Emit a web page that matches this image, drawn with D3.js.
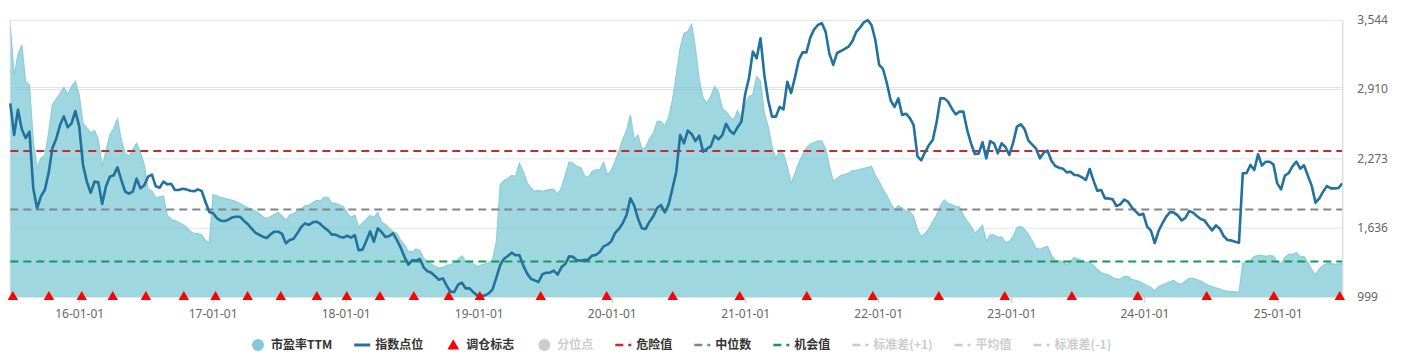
<!DOCTYPE html>
<html>
<head>
<meta charset="utf-8">
<script src="https://cdn.jsdelivr.net/npm/d3@7/dist/d3.min.js"></script>
<style>
  body { margin: 0; background: #fff; }
  svg text { font-family: "Noto Sans CJK SC", "Noto Sans", sans-serif; }
</style>
</head>
<body>
<svg id="chart" width="1424" height="362"></svg>
<script>
// one value every 10.5 days starting 2015-06-26
const startDate = new Date(2015, 5, 26);
const stepDays = 10.5;

const peTTM = [
  68.1, 58.3, 62.4, 64.4, 57.1, 56.4, 45.1, 39.7, 41.7, 42.3,
  46.7, 52.5, 53.6, 54.7, 55.9, 54.5, 56.1, 57.1, 54.4, 48.7,
  47.8, 46.8, 47.3, 45.4, 40.1, 43.1, 46.4, 47.7, 49.6, 45.4,
  42.7, 42.2, 43.5, 44.7, 42.9, 40.4, 35.6, 35.2, 33.8, 34.0,
  34.2, 30.3, 29.6, 29.3, 28.9, 28.5, 28.0, 27.1, 26.7, 26.7,
  26.4, 25.3, 24.8, 34.5, 34.2, 33.9, 33.7, 33.5, 33.3, 33.1,
  32.7, 32.3, 31.9, 31.6, 31.2, 30.7, 30.1, 29.7, 30.1, 30.5,
  30.9, 30.2, 29.3, 30.4, 30.7, 31.2, 31.7, 32.2, 32.3, 32.9,
  33.3, 33.2, 33.9, 33.9, 32.7, 32.7, 32.4, 32.1, 30.8, 29.9,
  30.4, 27.9, 28.8, 29.5, 30.3, 29.9, 30.9, 29.0, 28.5, 27.7,
  27.1, 26.7, 25.3, 24.4, 23.1, 23.0, 23.6, 23.3, 21.7, 21.1,
  20.6, 20.1, 19.8, 19.9, 20.3, 20.4, 20.8, 21.5, 22.2, 21.1,
  21.2, 20.6, 20.1, 20.4, 20.6, 20.8, 21.4, 25.1, 36.5, 37.3,
  37.7, 38.3, 38.1, 40.7, 39.1, 36.9, 35.8, 35.1, 35.3, 35.1,
  35.3, 35.5, 35.5, 34.5, 35.9, 38.4, 41.0, 40.8, 40.1, 39.9,
  38.3, 37.9, 39.1, 39.4, 39.4, 40.9, 38.4, 39.3, 41.1, 43.2,
  45.5, 47.3, 50.4, 45.5, 46.4, 43.5, 43.9, 45.7, 46.7, 49.1,
  49.1, 48.2, 49.9, 53.4, 58.4, 63.7, 66.7, 67.1, 68.5, 63.7,
  57.4, 53.7, 52.8, 54.1, 56.1, 55.1, 51.6, 51.1, 50.0, 49.4,
  51.3, 49.3, 52.4, 54.1, 54.5, 58.1, 57.1, 50.7, 48.1, 44.1,
  41.7, 43.3, 42.6, 40.1, 36.7, 38.7, 40.8, 42.4, 43.8, 44.6,
  44.9, 45.2, 45.2, 43.6, 40.1, 37.1, 37.7, 38.3, 38.5, 38.8,
  39.2, 39.3, 39.5, 39.7, 39.9, 40.1, 38.3, 37.1, 35.5, 34.3,
  32.7, 31.5, 32.3, 31.8, 31.1, 31.1, 30.1, 27.4, 26.1, 26.7,
  27.6, 29.1, 30.4, 32.3, 33.4, 32.7, 32.5, 32.1, 32.0, 30.4,
  29.2, 28.1, 26.8, 27.4, 28.3, 25.1, 26.4, 26.4, 25.9, 26.0,
  24.9, 25.1, 26.1, 27.9, 28.1, 27.5, 26.5, 25.2, 23.7, 23.5,
  23.9, 24.1, 22.4, 21.3, 21.2, 21.1, 20.5, 21.1, 21.9, 21.6,
  21.3, 20.9, 21.0, 20.3, 19.5, 18.9, 18.6, 18.4, 17.9, 17.6,
  17.5, 18.1, 18.1, 17.5, 17.3, 17.1, 16.7, 16.3, 15.9, 15.2,
  16.1, 16.4, 16.7, 17.1, 17.3, 16.7, 16.5, 17.2, 17.7, 17.7,
  17.5, 17.2, 16.8, 16.3, 16.1, 15.8, 15.6, 15.3, 15.1, 15.1,
  15.0, 14.9, 20.7, 21.1, 21.3, 22.1, 22.3, 22.3, 22.1, 22.3,
  22.2, 21.0, 20.6, 21.9, 22.5, 22.5, 22.9, 22.0, 22.1, 20.9,
  19.5, 18.4, 19.6, 20.3, 20.7, 20.7, 20.5, 20.6, 20.7
];

const indexPoints = [
  2778, 2487, 2720, 2540, 2460, 2518, 1997, 1813, 1924, 1982,
  2135, 2368, 2454, 2579, 2659, 2558, 2595, 2708, 2567, 2212,
  2059, 1957, 2059, 2052, 1853, 2016, 2104, 2117, 2190, 2074,
  1968, 1948, 1968, 2086, 1997, 2025, 2104, 2123, 2016, 2003,
  2059, 2034, 2040, 1982, 1982, 1994, 1988, 1976, 1970, 1988,
  1973, 1872, 1780, 1768, 1722, 1700, 1697, 1709, 1731, 1737,
  1737, 1700, 1670, 1630, 1590, 1571, 1553, 1541, 1575, 1599,
  1599, 1578, 1492, 1523, 1535, 1584, 1642, 1676, 1660, 1685,
  1691, 1670, 1636, 1611, 1572, 1572, 1553, 1545, 1562, 1544,
  1568, 1428, 1434, 1513, 1602, 1507, 1630, 1596, 1550, 1559,
  1584, 1523, 1452, 1366, 1296, 1336, 1333, 1348, 1271, 1235,
  1222, 1189, 1158, 1170, 1103, 1048, 1045, 1112, 1130, 1078,
  1078, 1042, 1014, 1008, 1014, 1032, 1069, 1179, 1293, 1351,
  1376, 1406, 1382, 1385, 1290, 1216, 1167, 1152, 1137, 1207,
  1222, 1222, 1241, 1204, 1274, 1302, 1372, 1369, 1336, 1333,
  1339, 1342, 1379, 1385, 1412, 1464, 1480, 1510, 1587, 1624,
  1676, 1752, 1905, 1838, 1719, 1630, 1624, 1691, 1740, 1817,
  1844, 1777, 1850, 1997, 2150, 2487, 2411, 2527, 2497, 2432,
  2481, 2334, 2362, 2383, 2481, 2447, 2484, 2591, 2527, 2497,
  2558, 2610, 2864, 3014, 3253, 3192, 3376, 3039, 2809, 2656,
  2656, 2745, 2723, 2977, 2873, 3017, 3177, 3247, 3247, 3382,
  3458, 3498, 3516, 3437, 3235, 3131, 3241, 3259, 3278, 3299,
  3348, 3434, 3474, 3523, 3544, 3498, 3360, 3131, 3094, 2965,
  2806, 2745, 2824, 2671, 2683, 2644, 2579, 2291, 2255, 2331,
  2395, 2441, 2604, 2824, 2824, 2794, 2729, 2677, 2702, 2702,
  2533, 2411, 2313, 2316, 2420, 2273, 2432, 2411, 2319, 2411,
  2377, 2304, 2417, 2564, 2585, 2542, 2435, 2399, 2362, 2273,
  2325, 2343, 2251, 2202, 2187, 2178, 2144, 2150, 2120, 2117,
  2098, 2074, 2175, 2068, 1976, 1982, 1905, 1905, 1896, 1835,
  1850, 1893, 1875, 1823, 1786, 1752, 1764, 1645, 1608, 1495,
  1605, 1676, 1737, 1780, 1774, 1749, 1703, 1725, 1789, 1774,
  1743, 1716, 1703, 1654, 1611, 1657, 1627, 1559, 1523, 1519,
  1507, 1498, 2135, 2138, 2212, 2166, 2310, 2206, 2242, 2242,
  2218, 2043, 1988, 2114, 2138, 2202, 2242, 2178, 2209, 2114,
  2022, 1866, 1906, 1967, 2019, 1997, 1997, 2000, 2043
];

const rebalanceDates = [
  '2015-07-03', '2015-10-10', '2016-01-08', '2016-04-02', '2016-07-02', '2016-10-14',
  '2017-01-09', '2017-04-07', '2017-07-07', '2017-10-14', '2018-01-04', '2018-04-05',
  '2018-07-07', '2018-10-11', '2019-01-04', '2019-06-20', '2019-12-18', '2020-06-16',
  '2020-12-17', '2021-06-19', '2021-12-17', '2022-06-16', '2022-12-14', '2023-06-16',
  '2023-12-14', '2024-06-20', '2024-12-21', '2025-06-20'
];

const refLines = [
  { name: '危险值', value: 43.2, color: '#c62a2f' },
  { name: '中位数', value: 31.5, color: '#808389' },
  { name: '机会值', value: 21.1, color: '#15995a' }
];

const indexTicks = [999, 1636, 2273, 2910, 3544];
const peRange = [14, 69.4];

const legendItems = [
  { name: '市盈率TTM', type: 'circle', color: '#7fcad4', on: true },
  { name: '指数点位', type: 'line', color: '#21729c', on: true },
  { name: '调仓标志', type: 'triangle', color: '#ff0000', on: true },
  { name: '分位点', type: 'circle', color: '#cccccc', on: false },
  { name: '危险值', type: 'dash', color: '#c62a2f', on: true },
  { name: '中位数', type: 'dash', color: '#808389', on: true },
  { name: '机会值', type: 'dash', color: '#15995a', on: true },
  { name: '标准差(+1)', type: 'dash', color: '#cccccc', on: false },
  { name: '平均值', type: 'dash', color: '#cccccc', on: false },
  { name: '标准差(-1)', type: 'dash', color: '#cccccc', on: false }
];

const margin = { left: 10.3, right: 1342.3, top: 20, bottom: 297 };
const svg = d3.select('#chart');

const dates = peTTM.map((d, i) => new Date(startDate.getTime() + i * stepDays * 864e5));
const x = d3.scaleTime().domain(d3.extent(dates)).range([margin.left, margin.right]);
const yIdx = d3.scaleLinear().domain([999, 3544]).range([margin.bottom, margin.top]);
const yPE = d3.scaleLinear().domain(peRange).range([margin.bottom, margin.top]);

// grid
const grid = svg.append('g');
grid.selectAll('line')
    .data(indexTicks)
    .enter()
    .append('line')
    .attr('x1', margin.left)
    .attr('x2', margin.right)
    .attr('y1', d => yIdx(d) + .5)
    .attr('y2', d => yIdx(d) + .5)
    .attr('stroke', '#e3e3e3');
// the hidden pe axis puts one more split line just above 2,910
grid.append('line')
    .attr('x1', margin.left).attr('x2', margin.right)
    .attr('y1', yIdx(2910) - 1.5).attr('y2', yIdx(2910) - 1.5)
    .attr('stroke', '#e3e3e3');

// pe area
const area = d3.area()
    .x((d, i) => x(dates[i]))
    .y0(margin.bottom)
    .y1(d => yPE(d));
svg.append('path')
    .datum(peTTM)
    .attr('d', area)
    .attr('fill', 'rgb(120,200,211)')
    .attr('fill-opacity', .72);
svg.append('path')
    .datum(peTTM)
    .attr('d', d3.line().x((d, i) => x(dates[i])).y(d => yPE(d)))
    .attr('fill', 'none')
    .attr('stroke', '#8dcfd8')
    .attr('stroke-width', 1.3);

// left edge
svg.append('line')
    .attr('x1', margin.left).attr('x2', margin.left)
    .attr('y1', margin.top).attr('y2', margin.bottom)
    .attr('stroke', '#c9d6e3');

// reference lines
svg.append('g').selectAll('line')
    .data(refLines)
    .enter()
    .append('line')
    .attr('x1', margin.left)
    .attr('x2', margin.right)
    .attr('y1', d => yPE(d.value))
    .attr('y2', d => yPE(d.value))
    .attr('stroke', d => d.color)
    .attr('stroke-width', 2)
    .attr('stroke-dasharray', '8,5');

// index line
svg.append('path')
    .datum(indexPoints)
    .attr('d', d3.line().x((d, i) => x(dates[i])).y(d => yIdx(d)))
    .attr('fill', 'none')
    .attr('stroke', '#21729c')
    .attr('stroke-width', 2.6)
    .attr('stroke-linejoin', 'round');

// right axis
const yAxis = svg.append('g')
    .attr('transform', `translate(${margin.right},0)`)
    .call(d3.axisRight(yIdx).tickValues(indexTicks).tickFormat(d3.format(',')).tickSize(0).tickPadding(15));
yAxis.select('.domain').attr('stroke', '#c3d3e3');
yAxis.selectAll('text').attr('fill', '#666').style('font-size', '12px').style('font-family', '"Noto Sans", sans-serif');

// x axis
const xAxis = svg.append('g')
    .attr('transform', `translate(0,${margin.bottom})`)
    .call(d3.axisBottom(x).ticks(d3.timeYear.every(1)).tickFormat(d3.timeFormat('%y-%m-%d')).tickSize(6).tickPadding(6));
xAxis.select('.domain').remove();
xAxis.selectAll('line').attr('stroke', '#b8c8da');
xAxis.selectAll('text').attr('fill', '#666').style('font-size', '12px').style('font-family', '"Noto Sans", sans-serif');

// rebalance markers
svg.append('g').selectAll('path')
    .data(rebalanceDates)
    .enter()
    .append('path')
    .attr('d', d3.symbol(d3.symbolTriangle, 48))
    .attr('transform', d => `translate(${x(new Date(d + 'T00:00:00'))},${margin.bottom})`)
    .attr('fill', '#ff0000');

// legend
const legend = svg.append('g').attr('transform', 'translate(0,345)');
let lx = 250;
legendItems.forEach(item => {
  const g = legend.append('g').attr('transform', `translate(${lx},0)`);
  const c = item.color;
  if (item.type === 'circle') {
    g.append('circle').attr('cx', 8).attr('cy', 0).attr('r', 6).attr('fill', c);
  } else if (item.type === 'line') {
    g.append('line').attr('x1', 0).attr('x2', 16).attr('y1', 0).attr('y2', 0)
        .attr('stroke', c).attr('stroke-width', 3);
  } else if (item.type === 'triangle') {
    g.append('path').attr('d', d3.symbol(d3.symbolTriangle, 60)).attr('transform', 'translate(8,1)').attr('fill', c);
  } else {
    g.append('line').attr('x1', 0).attr('x2', 16).attr('y1', 0).attr('y2', 0)
        .attr('stroke', c).attr('stroke-width', 2.5).attr('stroke-dasharray', '8,5');
  }
  const t = g.append('text')
      .attr('x', 21)
      .attr('y', 0)
      .attr('dy', '0.36em')
      .attr('fill', item.on ? '#333' : '#ccc')
      .style('font-size', '12px')
      .style('font-weight', 'bold')
      .text(item.name);
  lx += 21 + t.node().getComputedTextLength() + 22;
});
</script>
</body>
</html>
